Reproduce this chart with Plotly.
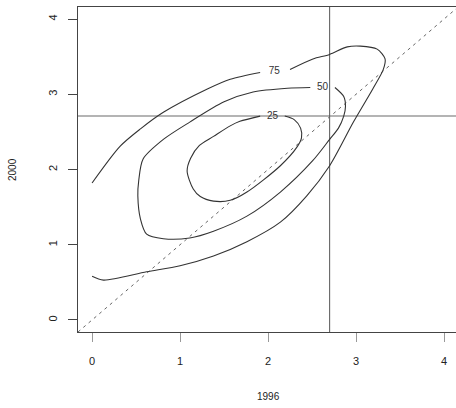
import plotly.graph_objects as go

# Contour lines (x = 1996, y = 2000).
# Each list runs from one side of its label gap round to the other.
C75_X = [0.00, 0.32, 0.55, 0.81, 1.31, 1.57, 1.91, None,
         2.25, 2.51, 2.70, 2.90, 3.05, 3.24, 3.33, 3.31, 3.19, 2.97, 2.70,
         2.44, 2.14, 1.76, 1.38, 1.00, 0.62, 0.13, 0.00]
C75_Y = [1.82, 2.31, 2.54, 2.76, 3.07, 3.20, 3.29, None,
         3.33, 3.47, 3.53, 3.63, 3.64, 3.60, 3.47, 3.33, 3.07, 2.63, 2.05,
         1.65, 1.30, 1.04, 0.85, 0.72, 0.64, 0.53, 0.58]
C50_X = [2.76, 2.86, 2.88, 2.86, 2.80, 2.70, 2.51, 2.14, 1.76, 1.38,
         1.11, 0.81, 0.62, 0.55, 0.52, 0.53, 0.58, 0.81, 1.11, 1.50, 1.83,
         2.22, 2.48]
C50_Y = [3.09, 2.97, 2.84, 2.71, 2.55, 2.40, 2.12, 1.70, 1.38, 1.18,
         1.09, 1.08, 1.14, 1.34, 1.65, 1.85, 2.14, 2.40, 2.63, 2.90, 3.03,
         3.08, 3.09]
C25_X = [2.19, 2.30, 2.37, 2.38, 2.33, 2.14, 1.76, 1.57, 1.38, 1.23,
         1.15, 1.08, 1.12, 1.22, 1.38, 1.57, 1.68, 1.91]
C25_Y = [2.71, 2.66, 2.55, 2.42, 2.30, 2.05, 1.70, 1.59, 1.58, 1.64,
         1.74, 1.98, 2.15, 2.32, 2.44, 2.58, 2.64, 2.71]

LEVELS = ["75", "50", "25"]
LABEL_X = [2.07, 2.62, 2.05]
LABEL_Y = [3.30, 3.09, 2.71]

REF_X = 2.7   # vertical reference line
REF_Y = 2.71  # horizontal reference line
TICKS = [0, 1, 2, 3, 4]

INK = "#333333"
FONT = "Liberation Sans, Arial, sans-serif"

fig = go.Figure()

# y = x diagonal
fig.add_trace(go.Scatter(x=[-0.16, 4.2], y=[-0.16, 4.2], mode="lines",
                         line=dict(color="#666666", width=1, dash="3px,4px"),
                         hoverinfo="skip", showlegend=False))

# reference lines
fig.add_trace(go.Scatter(x=[-0.2, 4.3], y=[REF_Y, REF_Y], mode="lines",
                         line=dict(color="#b4b4b4", width=2),
                         hoverinfo="skip", showlegend=False))
fig.add_trace(go.Scatter(x=[REF_X, REF_X], y=[-0.2, 4.3], mode="lines",
                         line=dict(color="#555555", width=1),
                         hoverinfo="skip", showlegend=False))

for xs, ys in [(C75_X, C75_Y), (C50_X, C50_Y), (C25_X, C25_Y)]:
    fig.add_trace(go.Scatter(x=xs, y=ys, mode="lines",
                             line=dict(color=INK, width=1.1, shape="spline",
                                       smoothing=0.8),
                             connectgaps=False, hoverinfo="skip",
                             showlegend=False))

fig.add_trace(go.Scatter(x=LABEL_X, y=LABEL_Y, mode="text", text=LEVELS,
                         textfont=dict(family=FONT, size=10, color=INK),
                         hoverinfo="skip", showlegend=False))

axis_common = dict(tickvals=TICKS, ticks="outside", ticklen=9,
                   showgrid=False, zeroline=False, showline=True,
                   linecolor="#444444", linewidth=1,
                   tickfont=dict(family=FONT, size=11, color="#222222"))

fig.update_layout(
    width=456, height=408,
    margin=dict(l=78, r=0, t=7, b=76, autoexpand=False),
    paper_bgcolor="white", plot_bgcolor="white",
    xaxis=dict(range=[-0.16, 4.136], mirror=True, tickcolor="#999999",
               ticklabelstandoff=10, automargin=False, **axis_common),
    yaxis=dict(range=[-0.16, 4.16], tickangle=-90, tickcolor="#444444",
               ticklabelstandoff=7, automargin=False, **axis_common),
    # axis titles placed in pixels
    annotations=[
        dict(text="1996", x=(268 - 78) / 378, y=-(396 - 332) / 325,
             xref="paper", yref="paper", xanchor="center", yanchor="middle",
             showarrow=False,
             font=dict(family=FONT, size=10, color="#222222")),
        dict(text="2000", x=-(78 - 13) / 378, y=(332 - 170) / 325,
             xref="paper", yref="paper", xanchor="center", yanchor="middle",
             showarrow=False, textangle=-90,
             font=dict(family=FONT, size=10, color="#222222")),
    ],
)

# drop the default 8px body margin so the figure sits flush in the window
fig.write_html("out.html", config={"displayModeBar": False},
               post_script="document.body.style.margin='0';")
